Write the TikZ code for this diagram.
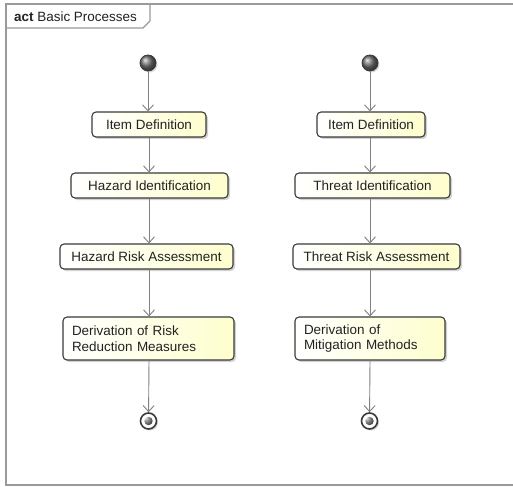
\documentclass[tikz,border=0pt]{standalone}
\usepackage{fontspec}
\setmainfont{Liberation Sans}
\usetikzlibrary{arrows.meta,shadows,shapes.misc}
\definecolor{actfill}{HTML}{FEFECE}
\definecolor{actline}{HTML}{3A3A3A}
\definecolor{flowline}{HTML}{808080}
\definecolor{framegray}{HTML}{9A9A9A}
\definecolor{labeltext}{HTML}{222222}
\tikzset{
  activity/.style={draw=actline, line width=1.1bp, rounded corners=4bp,
    left color=white, right color=actfill, text=labeltext,
    drop shadow={shadow xshift=2bp, shadow yshift=-2bp, opacity=0.35},
    font=\fontsize{13.5}{16}\selectfont, inner sep=0pt, minimum height=25bp},
  multiline/.style={align=left, minimum height=43bp, text width=#1},
  flow/.style={draw=flowline, line width=0.9bp,
    -{Straight Barb[length=6bp,width=11bp,line width=0.9bp]}},
  startdot/.style={circle, minimum size=16bp, inner sep=0pt, draw=actline,
    line width=0.8bp, ball color=black!55,
    drop shadow={shadow xshift=1.5bp, shadow yshift=-1.5bp, opacity=0.3}},
  enddot/.style={circle, minimum size=16bp, inner sep=0pt, draw=actline,
    line width=1.6bp, fill=white,
    drop shadow={shadow xshift=1.5bp, shadow yshift=-1.5bp, opacity=0.3},
    path picture={\shade[ball color=black!60]
      (path picture bounding box.center) circle (4.2bp);}},
}
\begin{document}
\begin{tikzpicture}[x=1bp,y=-1bp]
  \useasboundingbox (0,0) rectangle (513,487);
  \fill[white] (0,0) rectangle (513,487);

  % diagram frame with its name tab
  \draw[framegray, line width=1.6bp] (520,4) -- (6,4) -- (6,485) -- (520,485);
  \draw[framegray, line width=1.2bp] (6,28) -- (143,28) -- (150,21) -- (150,4);
  \node[anchor=west, font=\fontsize{13.5}{16}\selectfont, text=labeltext, inner sep=0pt]
    (title) at (14,16.5) {\textbf{act} Basic Processes};

  % safety process
  \node[startdot] (sStart) at (148,63) {};
  \node[activity, minimum width=114bp] (sItem) at (149,124.5) {Item Definition};
  \node[activity, minimum width=157bp] (sHaz) at (149.5,185.5) {Hazard Identification};
  \node[activity, minimum width=173bp] (sRisk) at (146.5,256.5) {Hazard Risk Assessment};
  \node[activity, multiline=153bp, minimum width=171bp] (sDer) at (148.5,338.5)
    {Derivation of Risk\\Reduction Measures};
  \node[enddot] (sEnd) at (148.5,421) {};

  % security process
  \node[startdot] (tStart) at (370,63) {};
  \node[activity, minimum width=108bp] (tItem) at (371,124.5) {Item Definition};
  \node[activity, minimum width=155bp] (tThr) at (372.5,185.5) {Threat Identification};
  \node[activity, minimum width=167bp] (tRisk) at (376.5,256.5) {Threat Risk Assessment};
  \node[activity, multiline=132bp, minimum width=150bp] (tDer) at (370,338.5)
    {Derivation of\\Mitigation Methods};
  \node[enddot] (tEnd) at (369.5,421) {};

  % control flows
  \draw[flow] (sStart) -- (sStart |- sItem.north);
  \draw[flow] (sItem) -- (sItem |- sHaz.north);
  \draw[flow] (sItem |- sHaz.south) -- (sItem |- sRisk.north);
  \draw[flow] (sItem |- sRisk.south) -- (sItem |- sDer.north);
  \draw[flow] (sItem |- sDer.south) -- (sEnd);

  \draw[flow] (tStart) -- (tStart |- tItem.north);
  \draw[flow] (tStart |- tItem.south) -- (tStart |- tThr.north);
  \draw[flow] (tStart |- tThr.south) -- (tStart |- tRisk.north);
  \draw[flow] (tStart |- tRisk.south) -- (tStart |- tDer.north);
  \draw[flow] (tStart |- tDer.south) -- (tEnd);
\end{tikzpicture}
\end{document}
